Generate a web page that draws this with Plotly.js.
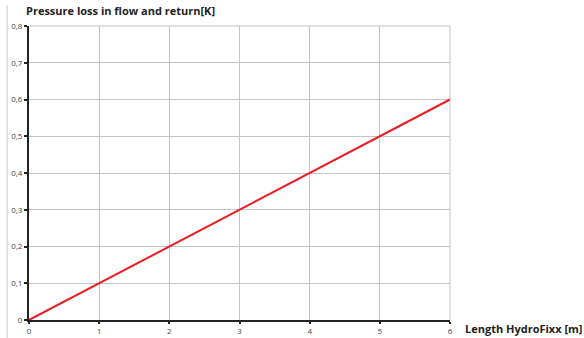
<!DOCTYPE html>
<html>
<head>
<meta charset="utf-8">
<script src="https://cdn.plot.ly/plotly-3.0.1.min.js"></script>
<style>html,body{margin:0;padding:0;background:#fff;}#chart{width:584px;height:338px;}</style>
</head>
<body>
<div id="chart"></div>
<script>
const lengths = [0, 1, 2, 3, 4, 5, 6];
const pressureLoss = [0, 0.1, 0.2, 0.3, 0.4, 0.5, 0.6];
const xTicks = [0, 1, 2, 3, 4, 5, 6];
const yTicks = [0, 0.1, 0.2, 0.3, 0.4, 0.5, 0.6, 0.7, 0.8];
const yTitle = "Pressure loss in flow and return[K]";
const xTitle = "Length HydroFixx [m]";

const trace = {
  x: lengths, y: pressureLoss, type: 'scatter', mode: 'lines',
  line: {color: '#ec1c24', width: 2}, hoverinfo: 'skip'
};
const layout = {
  width: 584, height: 338,
  margin: {l: 29, r: 134, t: 26, b: 18, pad: 0},
  paper_bgcolor: '#fff', plot_bgcolor: '#fff',
  separators: ',.',
  showlegend: false,
  font: {family: 'Open Sans, sans-serif', size: 8, color: '#444'},
  xaxis: {
    range: [0, 6], tickvals: xTicks, showgrid: true, gridcolor: '#c4c4c4', gridwidth: 1,
    zeroline: false, showline: true, linecolor: '#222', linewidth: 2,
    ticks: 'outside', ticklen: 2, tickwidth: 2, tickcolor: '#222',
    tickfont: {size: 8, color: '#444'}
  },
  yaxis: {
    range: [0, 0.8], tickvals: yTicks, showgrid: true, gridcolor: '#c4c4c4', gridwidth: 1,
    zeroline: false, showline: true, linecolor: '#222', linewidth: 2,
    ticks: 'outside', ticklen: 3, tickwidth: 2, tickcolor: '#222',
    tickfont: {size: 8, color: '#444'}
  },
  shapes: [
    {type: 'line', xref: 'paper', yref: 'paper', x0: -0.052, x1: -0.052, y0: 1.071, y1: -0.07,
     line: {color: '#c8c8c8', width: 1}},
    {type: 'line', xref: 'paper', yref: 'paper', x0: 0, x1: 1, y0: 1, y1: 1,
     line: {color: '#c4c4c4', width: 1}, layer: 'below'},
    {type: 'line', xref: 'paper', yref: 'paper', x0: 1, x1: 1, y0: 0, y1: 1,
     line: {color: '#c4c4c4', width: 1}, layer: 'below'}
  ],
  annotations: [
    {text: '<b>' + yTitle + '</b>', xref: 'paper', yref: 'paper', x: -0.012, y: 1.02,
     xanchor: 'left', yanchor: 'bottom', showarrow: false,
     font: {family: 'Open Sans, sans-serif', size: 11, color: '#222'}},
    {text: '<b>' + xTitle + '</b>', xref: 'paper', yref: 'paper', x: 1.03, y: -0.03,
     xanchor: 'left', yanchor: 'middle', showarrow: false,
     font: {family: 'Open Sans, sans-serif', size: 11, color: '#222'}}
  ]
};
Plotly.newPlot('chart', [trace], layout, {displayModeBar: false, staticPlot: true});
</script>
</body>
</html>
